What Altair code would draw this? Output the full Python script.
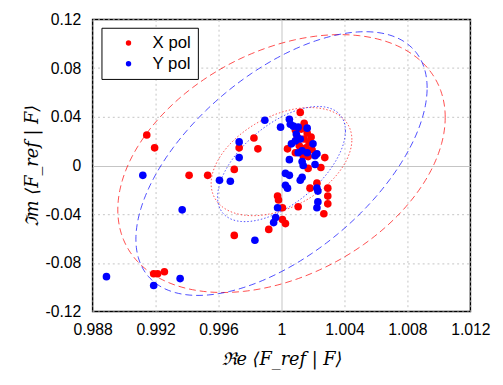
import numpy as np
import pandas as pd
import altair as alt

# ---- data ----
x_pol_re = [0.99144, 0.99194, 0.99413, 0.99531, 0.99700, 0.99700, 0.99919, 0.99188, 0.99213, 0.99256,
            0.99731, 0.99825, 0.99850, 1.00119, 1.00144, 1.00038, 1.00275, 1.00250, 1.00169, 1.00225,
            1.00181, 1.00294, 1.00294, 1.00294, 1.00269, 0.99975, 0.99981, 1.00006, 1.00106, 1.00006,
            1.00025, 1.00088, 1.00125, 1.00163, 1.00188, 1.00100, 1.00144, 1.00175, 1.00113, 1.00156,
            1.00194, 1.00088, 1.00138, 1.00169]
x_pol_im = [0.0251, 0.0145, -0.0081, -0.0081, -0.0032, -0.0574, -0.0525, -0.0889, -0.0889, -0.0873,
            0.0145, 0.0226, 0.0137, 0.0436, 0.0347, 0.0137, 0.0065, -0.0016, -0.0024, -0.0145,
            -0.0186, -0.0186, -0.0251, -0.0315, -0.0396, -0.0251, -0.0283, -0.0347, -0.0339, -0.0444,
            -0.0477, 0.0291, 0.0299, 0.0267, 0.0234, 0.0234, 0.0218, 0.0186, 0.0162, 0.0145,
            0.0129, 0.0105, 0.0081, 0.0073]

y_pol_re = [0.99119, 0.99369, 0.98888, 0.99188, 0.99356, 0.99606, 0.99675, 0.99731, 0.99731, 0.99831,
            0.99894, 0.99994, 1.00050, 1.00056, 1.00075, 1.00106, 1.00163, 1.00063, 1.00088, 1.00119,
            1.00131, 1.00106, 1.00163, 1.00225, 1.00200, 1.00050, 1.00131, 1.00138, 1.00213, 1.00025,
            1.00050, 1.00131, 1.00119, 1.00025, 1.00038, 1.00225, 1.00231, 1.00231, 1.00225, 0.99975,
            0.99963, 0.99950, 1.00213, 1.00094]
y_pol_im = [-0.0081, -0.0364, -0.0913, -0.0986, -0.0929, -0.0121, -0.0129, 0.0194, 0.0065, -0.0614,
            0.0372, 0.0315, 0.0380, 0.0339, 0.0323, 0.0315, 0.0307, 0.0178, 0.0202, 0.0218,
            0.0121, 0.0105, 0.0105, 0.0097, 0.0178, 0.0048, 0.0032, 0.0000, 0.0008, -0.0065,
            -0.0081, -0.0097, -0.0121, -0.0162, -0.0186, -0.0186, -0.0210, -0.0299, -0.0347, -0.0347,
            -0.0428, -0.0469, 0.0081, 0.0259]

series_names = ["X pol", "Y pol"]
series_colors = ["#ff0000", "#0000ff"]

# ellipse parameters (centre, x half-extent, y half-extent, phase)
ellipse_pol = ["X pol", "Y pol", "X pol", "Y pol"]
ellipse_kind = ["outer", "outer", "inner", "inner"]
ellipse_cx = [1.0000, 1.0000, 1.0000, 1.0000]
ellipse_cy = [0.0016, 0.0016, 0.0032, 0.0012]
ellipse_sx = [0.0104, 0.00925, 0.00447, 0.00406]
ellipse_sy = [0.1059, 0.1083, 0.0444, 0.0473]
ellipse_phi_deg = [69, 55, 66, 55]

x_ticks = [0.988, 0.992, 0.996, 1, 1.004, 1.008, 1.012]
y_ticks = [-0.12, -0.08, -0.04, 0, 0.04, 0.08, 0.12]

# ---- tables ----
pts = pd.DataFrame({
    "re": x_pol_re + y_pol_re,
    "im": x_pol_im + y_pol_im,
    "pol": ["X pol"] * len(x_pol_re) + ["Y pol"] * len(y_pol_re),
})

rows = []
tt = np.linspace(0, 2 * np.pi, 241)
for i in range(len(ellipse_pol)):
    phi = np.radians(ellipse_phi_deg[i])
    for k, t in enumerate(tt):
        rows.append({
            "re": ellipse_cx[i] + ellipse_sx[i] * np.cos(t),
            "im": ellipse_cy[i] + ellipse_sy[i] * np.cos(t - phi),
            "epol": ellipse_pol[i],
            "kind": ellipse_kind[i],
            "id": i,
            "k": k,
        })
ell = pd.DataFrame(rows)

label_expr = "replace(format(datum.value, '~g'), '\u2212', '-')"
common_axis = dict(
    ticks=False, domain=False,
    labelFont="Liberation Sans", labelFontSize=16, labelColor="black",
    titleFont="DejaVu Serif", titleFontSize=18, titleFontWeight="normal",
    titleFontStyle="italic", titleColor="black",
    gridColor="#c4c4c4", gridWidth=1, labelExpr=label_expr,
)

xenc = alt.X("re:Q", scale=alt.Scale(domain=[0.988, 1.012], nice=False, zero=False),
             axis=alt.Axis(values=x_ticks, title="\u211ce \u27e8F_ref | F\u27e9",
                           labelPadding=10, titlePadding=14, labelFlush=False,
                           gridDash={"condition": {"test": "abs(datum.value - 1) < 1e-9", "value": []},
                                     "value": [2, 3]},
                           **common_axis))
yenc = alt.Y("im:Q", scale=alt.Scale(domain=[-0.12, 0.12], nice=False, zero=False),
             axis=alt.Axis(values=y_ticks, title="\u2111m \u27e8F_ref | F\u27e9",
                           labelPadding=12, titlePadding=4, labelFlush=False,
                           gridDash={"condition": {"test": "abs(datum.value) < 1e-9", "value": []},
                                     "value": [2, 3]},
                           **common_axis))

ellipses = alt.Chart(ell).mark_line(strokeWidth=1, opacity=0.7).encode(
    x=xenc, y=yenc,
    color=alt.Color("epol:N", scale=alt.Scale(domain=series_names, range=series_colors), legend=None),
    strokeDash=alt.StrokeDash("kind:N", scale=alt.Scale(domain=["outer", "inner"], range=[[7, 4], [1.5, 2]]),
                              legend=None),
    detail="id:N",
    order="k:Q",
)

points = alt.Chart(pts).mark_circle(size=60, opacity=1).encode(
    x="re:Q", y="im:Q",
    color=alt.Color("pol:N", scale=alt.Scale(domain=series_names, range=series_colors),
                    legend=alt.Legend(orient="none", legendX=9, legendY=8.5, title=None,
                                      strokeColor="black", fillColor="white", padding=7,
                                      labelFont="Liberation Sans", labelFontSize=17, labelColor="black",
                                      symbolSize=30, symbolOffset=12, labelOffset=16, rowPadding=3,
                                      symbolStrokeWidth=0)),
)

chart = alt.layer(ellipses, points).resolve_scale(
    color="independent", strokeDash="independent"
).properties(
    width=384, height=297,
    padding={"left": 86, "top": 8.5, "right": 25, "bottom": 71.5},
    autosize=alt.AutoSizeParams(type="none"),
    background="white",
).configure_view(stroke="black", strokeWidth=1.5)

chart.save("out.html", embed_options={"renderer": "svg", "actions": False})
